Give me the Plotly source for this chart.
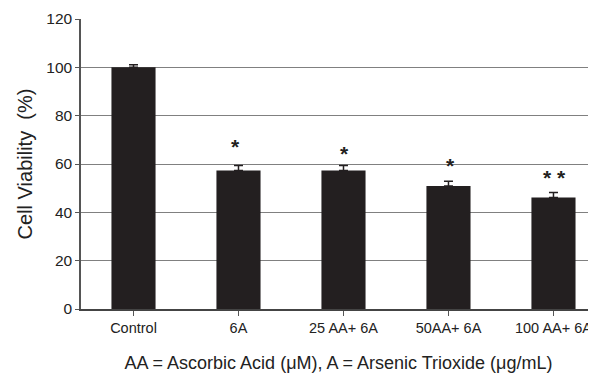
import plotly.graph_objects as go

categories = ["Control", "6A", "25 AA+ 6A", "50AA+ 6A", "100 AA+ 6A"]
viability = [100, 57.3, 57.3, 50.9, 46.1]
errors = [1.1, 2.1, 2.1, 2.0, 2.1]

# significance markers: (category position, height in %, label)
sig_x = [0.97, 2.01, 3.02, 4.01]
sig_y = [67.4, 64.5, 59.5, 54.3]
sig_text = ["*", "*", "*", "* *"]

FONT = "Liberation Sans, Arial, sans-serif"
INK = "#231f20"

fig = go.Figure()
fig.add_trace(go.Bar(
    x=list(range(len(categories))),
    y=viability,
    width=0.42,
    marker=dict(color=INK, line=dict(width=0)),
    error_y=dict(type="data", array=errors, arrayminus=[0] * len(errors),
                 symmetric=False, color=INK, thickness=1.5, width=4.5),
))

for xs, ys, t in zip(sig_x, sig_y, sig_text):
    fig.add_annotation(x=xs, y=ys, xref="x", yref="y", text="<b>" + t + "</b>", showarrow=False,
                       font=dict(family=FONT, size=21, color=INK),
                       xanchor="center", yanchor="middle")

# the page body has an 8px margin, so the figure is sized/offset to compensate
fig.update_layout(
    template="none",
    width=588, height=365,
    margin=dict(l=73, r=0, t=11, b=64, autoexpand=False),
    paper_bgcolor="white", plot_bgcolor="white",
    showlegend=False,
    font=dict(family=FONT, color="#222222"),
)
fig.update_xaxes(
    automargin=False,
    range=[-0.5, 4.405],
    tickmode="array", tickvals=list(range(len(categories))), ticktext=categories,
    tickson="boundaries", ticks="outside", ticklen=5, tickcolor="#555555", tickwidth=1,
    showline=True, linecolor="#444444", linewidth=1.5,
    showgrid=False, zeroline=False,
    tickfont=dict(size=14.5, color="#222222"),
    title=dict(text="AA = Ascorbic Acid (μM), A = Arsenic Trioxide (μg/mL)",
               font=dict(size=18, color="#222222"), standoff=21),
)
fig.update_yaxes(
    automargin=False,
    range=[0, 120], dtick=20,
    ticks="outside", ticklen=4, tickcolor="#555555", tickwidth=1,
    showline=True, linecolor="#555555", linewidth=1.5,
    showgrid=True, gridcolor="#808080", gridwidth=1.2,
    zeroline=False,
    tickfont=dict(size=15.5, color="#222222"),
    title=dict(text="Cell Viability  (%)", font=dict(size=20, color="#222222"), standoff=8),
)

fig.write_html("out.html")
